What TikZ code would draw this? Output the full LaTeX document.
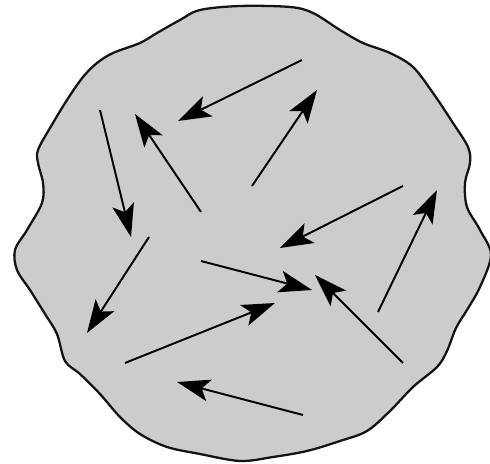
\documentclass[tikz,border=0pt]{standalone}
\usepackage{xcolor}
\usepackage{tikz}
\usetikzlibrary{arrows.meta}
\definecolor{blobGrey} {RGB}{204,204,204}
\definecolor{blobLine} {RGB}{ 20, 20, 20}

\begin{document}
\begin{tikzpicture}[
  >={Stealth[length=6.6mm,width=4.4mm,inset=1.5mm]},
  blob/.style={draw=blobLine,fill=blobGrey,line width=1.3pt},
  vec/.style ={->,line width=1.1pt,black}
]
\useasboundingbox (0,0) rectangle (9.8,-9.28);
% wavy outline
\draw[blob] plot[smooth cycle,tension=0.55] coordinates {
  (4.00,-0.20) (4.80,-0.12) (5.80,-0.14) (6.26,-0.26) (6.80,-0.60)
  (7.26,-0.86) (7.80,-1.06) (8.26,-1.34) (8.66,-1.86) (9.06,-2.46)
  (9.36,-2.94) (9.40,-3.26) (9.30,-3.66) (9.34,-4.14) (9.60,-4.60)
  (9.82,-5.10) (9.60,-5.74) (9.34,-6.20) (9.12,-6.56) (8.94,-7.02)
  (8.74,-7.34) (8.26,-7.74) (7.80,-8.22) (7.34,-8.62) (6.80,-8.82)
  (6.14,-9.02) (5.46,-9.14) (4.80,-9.22) (4.00,-9.08) (3.34,-8.94)
  (2.80,-8.68) (2.40,-8.34) (2.00,-7.88) (1.60,-7.48) (1.30,-7.22)
  (1.14,-6.68) (0.90,-6.28) (0.60,-5.80) (0.34,-5.40) (0.30,-5.00)
  (0.54,-4.60) (0.84,-4.06) (0.86,-3.66) (0.76,-3.26) (0.76,-3.00)
  (1.00,-2.56) (1.34,-2.00) (1.66,-1.54) (1.94,-1.26) (2.26,-1.06)
  (2.80,-0.86) (3.14,-0.66) (3.60,-0.40)};

% velocity arrows (tail / tip)
\foreach \a/\b in {
  {6.04,-1.20}/{3.56,-2.42},
  {5.04,-3.72}/{6.34,-1.80},
  {4.02,-4.24}/{2.70,-2.28},
  {2.00,-2.20}/{2.62,-4.74},
  {2.98,-4.74}/{1.74,-6.66},
  {8.06,-3.72}/{5.60,-4.96},
  {4.02,-5.22}/{6.24,-5.80},
  {2.50,-7.26}/{5.50,-6.06},
  {8.06,-7.26}/{6.30,-5.50},
  {7.56,-6.24}/{8.74,-3.80},
  {6.06,-8.30}/{3.54,-7.64}}
  \draw[vec] (\a) -- (\b);
\end{tikzpicture}
\end{document}
